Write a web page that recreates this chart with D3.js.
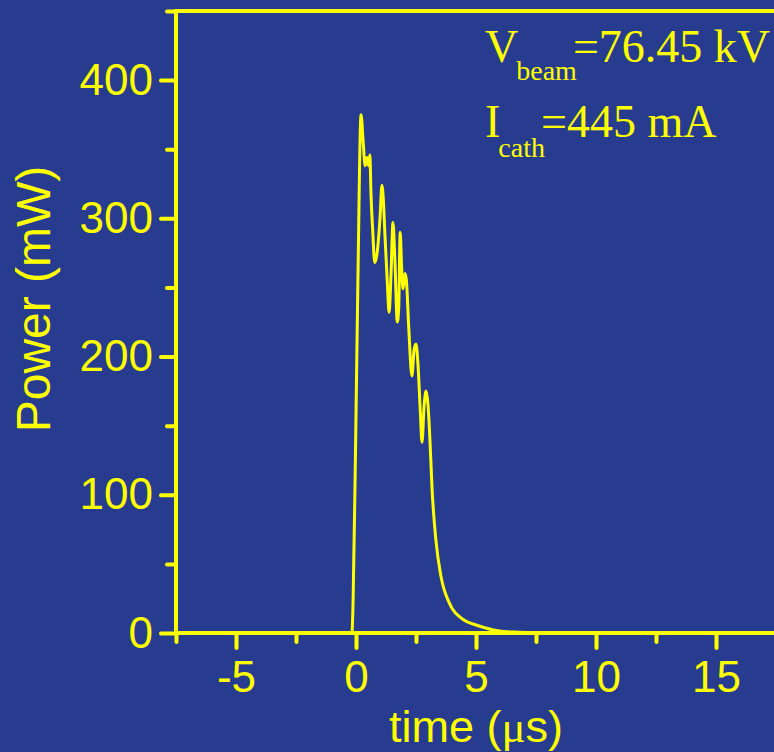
<!DOCTYPE html>
<html>
<head>
<meta charset="utf-8">
<script src="https://cdn.jsdelivr.net/npm/d3@7"></script>
<style>
  html, body { margin: 0; padding: 0; background: #273c8f; }
  #chart { width: 774px; height: 752px; overflow: hidden; }
</style>
</head>
<body>
<div id="chart"></div>
<script>
// time in microseconds, power in mW
const timeUs = [-7.5, -0.17, -0.12, -0.02, 0.08, 0.21, 0.3, 0.38, 0.45, 0.52, 0.58, 0.62, 0.7, 0.78,
  0.88, 1.0, 1.08, 1.15, 1.2, 1.3, 1.38, 1.46, 1.54, 1.62, 1.72, 1.78, 1.84, 1.9, 1.96, 2.04, 2.1,
  2.2, 2.33, 2.42, 2.5, 2.58, 2.68, 2.75, 2.84, 2.92, 3.0, 3.08, 3.17, 3.33, 3.54, 3.88, 4.5, 5.0,
  5.4, 5.96, 6.8, 8, 17.5];
const powerMW = [0, 0, 24, 133, 256, 375, 355, 338, 344, 338, 346, 320, 290, 268,
  275, 300, 324, 310, 290, 255, 232, 260, 297, 270, 225, 235, 290, 265, 249, 260, 255,
  220, 186, 205, 209, 195, 160, 138, 165, 175, 165, 140, 104, 67, 41, 22, 9.4, 5.8,
  3.6, 1.4, 0.5, 0, 0];

const xMajor = [-5, 0, 5, 10, 15];
const xMinor = [-7.5, -2.5, 2.5, 7.5, 12.5];
const yMajor = [0, 100, 200, 300, 400];
const yMinor = [50, 150, 250, 350, 450];

const W = 774, H = 752;
const yellow = "#ffff00";
const sans = "'Liberation Sans', Arial, sans-serif";
const serif = "'Liberation Serif', 'Times New Roman', serif";

const svg = d3.select("#chart").append("svg")
  .attr("width", W)
  .attr("height", H);

svg.append("rect").attr("width", W).attr("height", H).attr("fill", "#273c8f");

const x = d3.scaleLinear().domain([-7.5, 17.5]).range([176, 776]);
const y = d3.scaleLinear().domain([0, 450]).range([633, 11]);

// frame lines
svg.append("line")
  .attr("x1", x(-7.5)).attr("x2", x(17.5))
  .attr("y1", y(450)).attr("y2", y(450))
  .attr("stroke", yellow).attr("stroke-width", 4).attr("stroke-linecap", "round");
svg.append("line")
  .attr("x1", x(-7.5)).attr("x2", x(17.5))
  .attr("y1", y(0)).attr("y2", y(0))
  .attr("stroke", yellow).attr("stroke-width", 4).attr("stroke-linecap", "round");
svg.append("line")
  .attr("x1", x(-7.5)).attr("x2", x(-7.5))
  .attr("y1", y(0)).attr("y2", y(450))
  .attr("stroke", yellow).attr("stroke-width", 4).attr("stroke-linecap", "round");

function styleAxis(g) {
  g.select(".domain").remove();
  g.selectAll(".tick line")
    .attr("stroke", yellow)
    .attr("stroke-width", 4)
    .attr("stroke-linecap", "round");
  g.selectAll("text")
    .attr("fill", yellow)
    .style("font-family", sans)
    .style("font-size", "44px");
}

const plain = d => String(d);

// x axis
svg.append("g")
  .attr("transform", `translate(0,${y(0)})`)
  .call(d3.axisBottom(x).tickValues(xMinor).tickSize(9).tickFormat(""))
  .call(styleAxis);
svg.append("g")
  .attr("transform", `translate(0,${y(0)})`)
  .call(d3.axisBottom(x).tickValues(xMajor).tickSize(15).tickPadding(13).tickFormat(plain))
  .call(styleAxis);

// y axis
svg.append("g")
  .attr("transform", `translate(${x(-7.5)},0)`)
  .call(d3.axisLeft(y).tickValues(yMinor).tickSize(9).tickFormat(""))
  .call(styleAxis);
svg.append("g")
  .attr("transform", `translate(${x(-7.5)},0)`)
  .call(d3.axisLeft(y).tickValues(yMajor).tickSize(15).tickPadding(8).tickFormat(plain))
  .call(styleAxis);

// trace
const pts = timeUs.map((t, i) => [t, powerMW[i]]);
const line = d3.line()
  .x(d => x(d[0]))
  .y(d => y(d[1]))
  .curve(d3.curveMonotoneX);

svg.append("path")
  .datum(pts)
  .attr("d", line)
  .attr("fill", "none")
  .attr("stroke", yellow)
  .attr("stroke-width", 3)
  .attr("stroke-linejoin", "round");

// axis titles
const xt = svg.append("text")
  .attr("x", 476)
  .attr("y", 742)
  .attr("text-anchor", "middle")
  .attr("fill", yellow)
  .style("font-family", sans)
  .style("font-size", "45px");
xt.append("tspan").text("time (");
xt.append("tspan").style("font-family", serif).text("\u03bc");
xt.append("tspan").text("s)");

svg.append("text")
  .attr("transform", "translate(50,299) rotate(-90)")
  .attr("text-anchor", "middle")
  .attr("fill", yellow)
  .style("font-family", sans)
  .style("font-size", "48px")
  .text("Power (mW)");

// annotations
const a1 = svg.append("text")
  .attr("x", 485).attr("y", 62)
  .attr("fill", yellow)
  .style("font-family", serif)
  .style("font-size", "46px");
a1.append("tspan").text("V");
a1.append("tspan").attr("dy", 18).attr("dx", -2).style("font-size", "28px").text("beam");
a1.append("tspan").attr("dy", -18).attr("dx", -4).text("=76.45 kV");

const a2 = svg.append("text")
  .attr("x", 485).attr("y", 137)
  .attr("fill", yellow)
  .style("font-family", serif)
  .style("font-size", "46px");
a2.append("tspan").text("I");
a2.append("tspan").attr("dy", 20).attr("dx", -2).style("font-size", "28px").text("cath");
a2.append("tspan").attr("dy", -20).attr("dx", -4).text("=445 mA");
</script>
</body>
</html>
